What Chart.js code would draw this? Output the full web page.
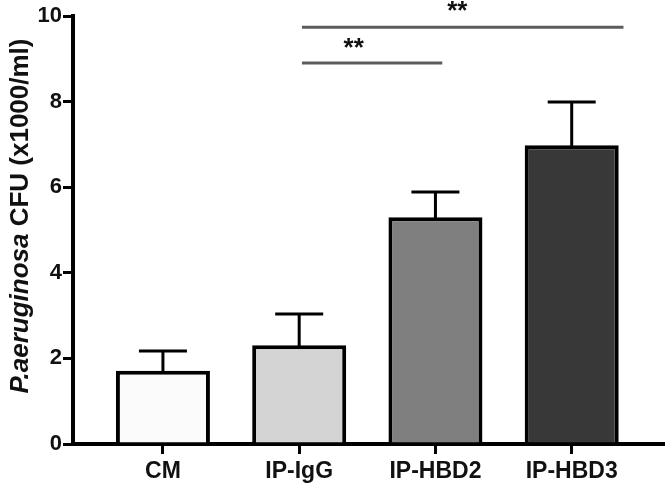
<!DOCTYPE html>
<html lang="en">
<head>
  <meta charset="UTF-8">
  <title>P. aeruginosa CFU</title>
  <script src="https://cdn.jsdelivr.net/npm/chart.js"></script>
  <style>
    html, body {
      margin: 0;
      padding: 0;
      background: #fff;
    }
    .wrap {
      width: 666px;
      height: 486px;
    }
  </style>
</head>
<body>
  <div class="wrap">
    <canvas id="cfuChart" width="666" height="486"></canvas>
  </div>

  <script>
    // data
    const categories = ['CM', 'IP-IgG', 'IP-HBD2', 'IP-HBD3'];
    const means = [1.71, 2.31, 5.30, 6.98];
    const errTops = [2.17, 3.04, 5.89, 7.99];
    const barColors = ['#fbfbfb', '#d4d4d4', '#7f7f7f', '#383838'];
    const yTicks = [0, 2, 4, 6, 8, 10];

    // significance brackets: from/to on the x value scale (CM = 1), height, star position
    const brackets = [
      { from: 2.02, to: 3.05, y: 8.9, label: '**', labelX: 2.40, labelY: 9.24 },
      { from: 2.02, to: 4.38, y: 9.74, label: '**', labelX: 3.16, labelY: 10.1 }
    ];

    const FONT = '"Liberation Sans", Arial, sans-serif';

    // error bars (upper only) + brackets + rotated y title
    const extras = {
      id: 'extras',
      afterDatasetsDraw(chart) {
        const c = chart.ctx;
        const y = chart.scales.y;
        const meta = chart.getDatasetMeta(0);
        c.save();
        c.strokeStyle = '#000';
        c.lineWidth = 3;
        meta.data.forEach((bar, i) => {
          const top = y.getPixelForValue(errTops[i]);
          c.beginPath();
          c.moveTo(bar.x, bar.y + 2);
          c.lineTo(bar.x, top);
          c.moveTo(bar.x - 24, top);
          c.lineTo(bar.x + 24, top);
          c.stroke();
        });
        c.restore();
      },
      afterDraw(chart) {
        const c = chart.ctx;
        const x = chart.scales.x;
        const y = chart.scales.y;
        c.save();
        c.strokeStyle = '#5c5c5c';
        c.lineWidth = 3;
        c.fillStyle = '#111';
        c.font = 'bold 26px ' + FONT;
        c.textAlign = 'center';
        c.textBaseline = 'middle';
        brackets.forEach(b => {
          const py = y.getPixelForValue(b.y);
          c.beginPath();
          c.moveTo(x.getPixelForValue(b.from), py);
          c.lineTo(x.getPixelForValue(b.to), py);
          c.stroke();
          c.fillText(b.label, x.getPixelForValue(b.labelX), y.getPixelForValue(b.labelY));
        });

        // y title, italic species name followed by upright text
        const part1 = 'P.aeruginosa';
        const part2 = ' CFU (x1000/ml)';
        const f1 = 'italic bold 26px ' + FONT;
        const f2 = 'bold 26px ' + FONT;
        c.font = f1;
        const w1 = c.measureText(part1).width;
        c.font = f2;
        const w2 = c.measureText(part2).width;
        const cy = 216;
        c.translate(28, cy);
        c.rotate(-Math.PI / 2);
        c.textAlign = 'left';
        c.textBaseline = 'alphabetic';
        c.fillStyle = '#111';
        const start = -(w1 + w2) / 2;
        c.font = f1;
        c.fillText(part1, start, 0);
        c.font = f2;
        c.fillText(part2, start + w1, 0);
        c.restore();
      }
    };

    const ctx = document.getElementById('cfuChart').getContext('2d');
    const cfuChart = new Chart(ctx, {
      type: 'bar',
      data: {
        datasets: [{
          data: means.map((v, i) => ({ x: i + 1, y: v })),
          backgroundColor: barColors,
          borderColor: '#000',
          borderWidth: 4,
          borderSkipped: 'start',
          barPercentage: 0.69,
          categoryPercentage: 1
        }]
      },
      options: {
        responsive: false,
        animation: false,
        events: [],
        layout: { padding: { top: 16, right: 3, left: 0, bottom: 0 } },
        plugins: {
          legend: { display: false },
          tooltip: { enabled: false }
        },
        scales: {
          x: {
            type: 'linear',
            offset: false,
            min: 0.34,
            max: 4.67,
            afterBuildTicks: s => { s.ticks = categories.map((_, i) => ({ value: i + 1 })); },
            afterFit: s => { s.height = 42; },
            ticks: {
              callback: v => categories[v - 1] || '',
              color: '#111',
              font: { family: FONT, size: 23, weight: 'bold' },
              padding: 4,
              maxRotation: 0,
              autoSkip: false
            },
            grid: {
              offset: false,
              drawOnChartArea: false,
              drawTicks: true,
              tickLength: 10,
              lineWidth: 3,
              color: '#000'
            },
            border: { display: true, width: 4, color: '#000' }
          },
          y: {
            min: 0,
            max: 10,
            afterBuildTicks: s => { s.ticks = yTicks.map(v => ({ value: v })); },
            afterFit: s => { s.width = 73; },
            ticks: {
              color: '#111',
              font: { family: FONT, size: 22, weight: 'bold' },
              padding: 1
            },
            grid: {
              drawOnChartArea: false,
              drawTicks: true,
              tickLength: 10,
              lineWidth: 3,
              color: '#000'
            },
            border: { display: true, width: 4, color: '#000' }
          }
        }
      },
      plugins: [extras]
    });
  </script>
</body>
</html>
